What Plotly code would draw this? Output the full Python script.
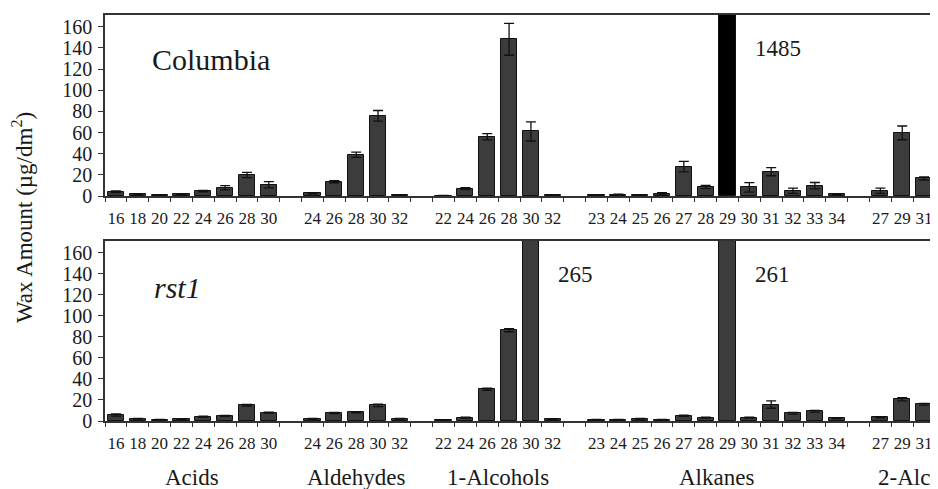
import plotly.graph_objects as go

# ---------------- data ----------------
groups = ["Acids", "Aldehydes", "1-Alcohols", "Alkanes", "2-Alc"]
chains = {
    "Acids": [16, 18, 20, 22, 24, 26, 28, 30],
    "Aldehydes": [24, 26, 28, 30, 32],
    "1-Alcohols": [22, 24, 26, 28, 30, 32],
    "Alkanes": [23, 24, 25, 26, 27, 28, 29, 30, 31, 32, 33, 34],
    "2-Alc": [27, 29, 31],
}

# Columbia (wild type)
col_acids = [4.1, 1.6, 1.0, 1.6, 4.7, 7.9, 19.9, 10.7]
col_aldehydes = [2.5, 13.6, 39.0, 75.8, 1.0]
col_alcohols = [0.4, 7.0, 56.0, 148.0, 61.0, 0.6]
col_alkanes = [1.0, 1.3, 0.6, 2.2, 27.8, 8.5, 1485.0, 8.2, 23.0, 5.0, 9.8, 1.6]
col_2alc = [5.0, 59.7, 16.7]

col_acids_err = [0.8, 0.3, 0.3, 0.4, 0.6, 2.0, 2.5, 3.0]
col_aldehydes_err = [0.5, 1.0, 2.5, 5.0, 0.3]
col_alcohols_err = [0.2, 1.0, 3.0, 15.0, 9.0, 0.3]
col_alkanes_err = [0.3, 0.5, 0.2, 1.0, 5.0, 1.5, 0.0, 4.5, 3.8, 2.5, 3.0, 0.3]
col_2alc_err = [2.5, 6.5, 1.5]

# rst1 mutant
rst_acids = [5.7, 2.2, 1.3, 1.6, 4.1, 4.8, 14.9, 7.9]
rst_aldehydes = [2.2, 7.6, 8.3, 14.9, 2.2]
rst_alcohols = [1.0, 3.2, 30.2, 86.3, 265.0, 1.9]
rst_alkanes = [1.3, 1.3, 2.2, 1.3, 5.0, 3.2, 261.0, 3.2, 15.6, 7.3, 9.2, 2.5]
rst_2alc = [3.5, 20.6, 15.9]

rst_acids_err = [1.0, 0.3, 0.2, 0.3, 0.5, 0.5, 0.8, 0.5]
rst_aldehydes_err = [0.3, 0.5, 0.5, 1.2, 0.3]
rst_alcohols_err = [0.2, 0.5, 1.0, 1.5, 0.0, 0.3]
rst_alkanes_err = [0.2, 0.2, 0.3, 0.2, 0.5, 0.4, 0.0, 0.5, 3.5, 0.8, 0.8, 0.3]
rst_2alc_err = [0.5, 1.5, 0.8]

y_ticks = [0, 20, 40, 60, 80, 100, 120, 140, 160]
y_max = 171

panels = [
    ("Columbia", [col_acids, col_aldehydes, col_alcohols, col_alkanes, col_2alc],
     [col_acids_err, col_aldehydes_err, col_alcohols_err, col_alkanes_err, col_2alc_err]),
    ("rst1", [rst_acids, rst_aldehydes, rst_alcohols, rst_alkanes, rst_2alc],
     [rst_acids_err, rst_aldehydes_err, rst_alcohols_err, rst_alkanes_err, rst_2alc_err]),
]

# ---------------- positions (one empty slot between groups) ----------------
xpos, xlab, group_centers = [], [], []
slot = 0
for g in groups:
    start = slot
    for c in chains[g]:
        xpos.append(slot)
        xlab.append(str(c))
        slot += 1
    group_centers.append((start + slot - 1) / 2)
    slot += 1
n_slots = slot - 1
boundaries = [k - 0.5 for k in range(n_slots + 1)]

FONT = "Liberation Serif, Times New Roman, serif"
TXT = "#1a1a1a"
LINE = "#333333"

fig = go.Figure()
domains = [[0.554, 1.0], [0.0, 0.4433]]
axis_ids = [("x", "y"), ("x2", "y2")]

for p, (name, vals, errs) in enumerate(panels):
    y = [v for grp in vals for v in grp]
    e = [v for grp in errs for v in grp]
    colors = ["#000000" if (p == 0 and v > y_max) else "#3c3c3c" for v in y]
    xa, ya = axis_ids[p]
    fig.add_trace(go.Bar(
        x=xpos, y=y, xaxis=xa, yaxis=ya, width=0.74,
        marker=dict(color=colors, line=dict(color="#111111", width=1)),
        error_y=dict(type="data", array=e, visible=True, color="#111111",
                     thickness=1.3, width=5),
        showlegend=False, hoverinfo="skip",
    ))
    # off-scale value labels
    for xi, v in zip(xpos, y):
        if v > y_max:
            fig.add_annotation(x=xi + 1.15, y=139, xref=xa, yref=ya,
                               text=f"{v:.0f}", showarrow=False,
                               xanchor="left", yanchor="middle",
                               font=dict(family=FONT, size=23, color=TXT))

common_x = dict(
    range=[-0.5, n_slots - 0.5], tickmode="array", tickvals=xpos, ticktext=xlab,
    ticks="", showline=True, mirror=True, linecolor=LINE, linewidth=1.7,
    showgrid=False, zeroline=False,
    tickfont=dict(family=FONT, size=17, color=TXT), ticklabelstandoff=6,
    minor=dict(tickmode="array", tickvals=boundaries, ticks="outside",
               ticklen=4, tickcolor=LINE, tickwidth=1, showgrid=False),
)
common_y = dict(
    range=[0, y_max], tickmode="array", tickvals=y_ticks,
    ticks="outside", ticklen=5, tickcolor=LINE, tickwidth=1,
    showline=True, mirror=True, linecolor=LINE, linewidth=1.7,
    showgrid=False, zeroline=False,
    tickfont=dict(family=FONT, size=20, color=TXT), ticklabelstandoff=2,
)

# page body has an 8px margin: figure is 8px smaller so it ends at the window edge
fig.update_layout(
    width=930, height=481,
    margin=dict(l=97, r=1, t=7, b=68),
    paper_bgcolor="white", plot_bgcolor="white",
    bargap=0,
    xaxis=dict(common_x, domain=[0, 1], anchor="y"),
    yaxis=dict(common_y, domain=domains[0], anchor="x"),
    xaxis2=dict(common_x, domain=[0, 1], anchor="y2"),
    yaxis2=dict(common_y, domain=domains[1], anchor="x2"),
)

# panel names
fig.add_annotation(x=0.1275, y=0.89, xref="paper", yref="paper", text="Columbia",
                   showarrow=False, xanchor="center", yanchor="middle",
                   font=dict(family=FONT, size=30, color=TXT))
fig.add_annotation(x=0.0875, y=0.328, xref="paper", yref="paper", text="<i>rst1</i>",
                   showarrow=False, xanchor="center", yanchor="middle",
                   font=dict(family=FONT, size=30, color=TXT))

# group labels
for g, c in zip(groups, group_centers):
    if g == groups[-1]:
        fig.add_annotation(x=c - 1.2, y=-0.138, xref="x2", yref="paper", text=g,
                           showarrow=False, xanchor="left", yanchor="middle",
                           font=dict(family=FONT, size=23, color=TXT))
    else:
        fig.add_annotation(x=c, y=-0.138, xref="x2", yref="paper", text=g,
                           showarrow=False, xanchor="center", yanchor="middle",
                           font=dict(family=FONT, size=23, color=TXT))

# y axis title
fig.add_annotation(x=-0.1, y=0.5, xref="paper", yref="paper",
                   text="Wax Amount (µg/dm<sup>2</sup>)", textangle=-90,
                   showarrow=False, xanchor="center", yanchor="middle",
                   font=dict(family=FONT, size=23, color=TXT))

fig.write_html("out.html")
